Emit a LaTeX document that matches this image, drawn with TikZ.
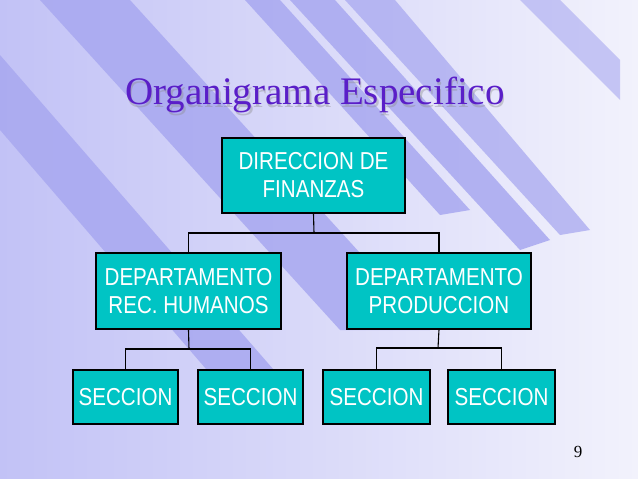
\documentclass[tikz,border=0pt]{standalone}
\usepackage{fontspec}
\setmainfont{Liberation Serif}
\newfontfamily\boxfont[FakeStretch=0.84]{Liberation Sans}
\definecolor{bgl}{HTML}{C2C2F6}
\definecolor{bgr}{HTML}{F2F2FC}
\definecolor{stripe}{HTML}{A8A8F0}
\definecolor{teal}{HTML}{00C4C4}
\definecolor{titlec}{HTML}{5A1EC8}
\begin{document}
\begin{tikzpicture}[x=1pt,y=-1pt,
  org/.style={draw=black,line width=1.3pt,fill=teal,text=white,font=\boxfont\fontsize{24.5}{28}\selectfont,align=center,inner sep=0pt},
  conn/.style={draw=black,line width=1.1pt}]
\useasboundingbox (0,0) rectangle (638,479);
\shade[left color=bgl,right color=bgr] (0,0) rectangle (638,479);
\begin{scope}
\clip (0,0) rectangle (638,479);
\fill[stripe,opacity=0.85] (40,0) -- (130,0) -- (430,330) -- (340,330) -- cycle;
\fill[stripe,opacity=0.85] (0,55) -- (0,130) -- (250,420) -- (300,400) -- cycle;
\fill[stripe,opacity=0.85] (245,0) -- (280,0) -- (470,210) -- (440,215) -- cycle;
\fill[stripe,opacity=0.85] (290,0) -- (335,0) -- (550,240) -- (520,250) -- cycle;
\fill[stripe,opacity=0.75] (345,0) -- (395,0) -- (590,230) -- (560,235) -- cycle;
\fill[stripe,opacity=0.6] (520,0) -- (560,0) -- (620,60) -- (620,100) -- cycle;
\end{scope}
\node[text=black!45,opacity=0.4,font=\fontsize{39}{44}\selectfont] (tshadow) at (316.5,97.5) {Organigrama Especifico};
\node[text=titlec,font=\fontsize{39}{44}\selectfont] (title) at (315,95) {Organigrama Especifico};
\node[org,minimum width=183,minimum height=75] (dir) at (313.5,175.5) {DIRECCION DE\\FINANZAS};
\node[org,minimum width=185,minimum height=76] (rh) at (188.5,291) {DEPARTAMENTO\\REC. HUMANOS};
\node[org,minimum width=184,minimum height=76] (pr) at (439,291) {DEPARTAMENTO\\PRODUCCION};
\node[org,minimum width=105,minimum height=54] (s1) at (125.5,397) {SECCION};
\node[org,minimum width=105,minimum height=54] (s2) at (250.5,397) {SECCION};
\node[org,minimum width=107,minimum height=54] (s3) at (376.5,397) {SECCION};
\node[org,minimum width=107,minimum height=54] (s4) at (501.5,397) {SECCION};
\coordinate (j0) at (314,233);
\coordinate (j1) at (189,349);
\coordinate (j2) at (438,348);
\draw[conn] (dir.south) -- (j0);
\draw[conn] (rh.north) -- (rh.north |- j0) -- (pr.north |- j0) -- (pr.north);
\draw[conn] (rh.south) -- (j1);
\draw[conn] (s1.north) -- (s1.north |- j1) -- (s2.north |- j1) -- (s2.north);
\draw[conn] (pr.south) -- (j2);
\draw[conn] (s3.north) -- (s3.north |- j2) -- (s4.north |- j2) -- (s4.north);
\node[font=\fontsize{17}{19}\selectfont] (num) at (578,452) {9};
\end{tikzpicture}
\end{document}
